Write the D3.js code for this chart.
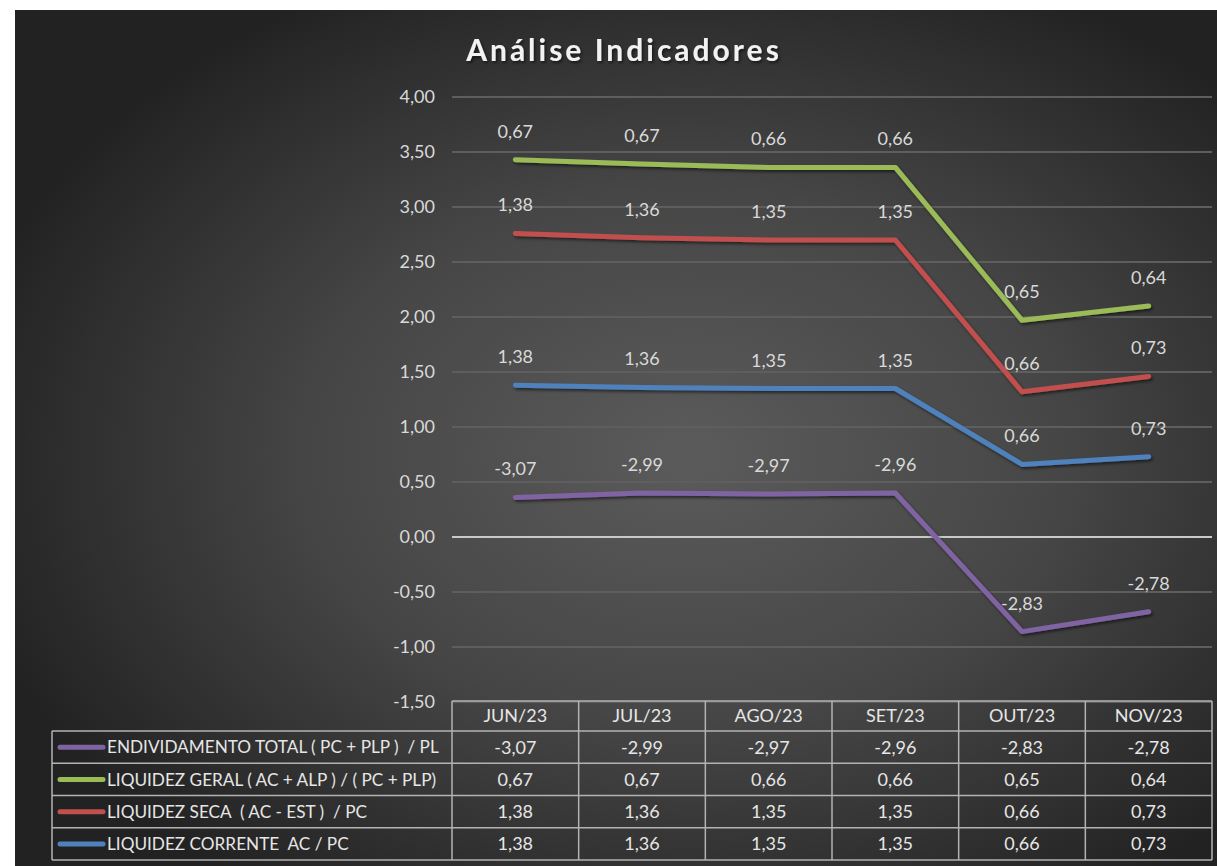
<!DOCTYPE html>
<html>
<head>
<meta charset="utf-8">
<script src="https://cdn.jsdelivr.net/npm/d3@7"></script>
<style>
  body { margin: 0; background: #fff; }
  text { font-family: Lato, "Open Sans", sans-serif; white-space: pre; }
</style>
</head>
<body>
<div class="chart"></div>
<script>
let w = 1217;
let h = 866;

// data
const months = ["JUN/23", "JUL/23", "AGO/23", "SET/23", "OUT/23", "NOV/23"];
const endividamento = [-3.07, -2.99, -2.97, -2.96, -2.83, -2.78];
const liquidezGeral = [0.67, 0.67, 0.66, 0.66, 0.65, 0.64];
const liquidezSeca = [1.38, 1.36, 1.35, 1.35, 0.66, 0.73];
const liquidezCorrente = [1.38, 1.36, 1.35, 1.35, 0.66, 0.73];
const seriesNames = [
  "ENDIVIDAMENTO TOTAL ( PC + PLP )  / PL",
  "LIQUIDEZ GERAL ( AC + ALP ) / ( PC + PLP)",
  "LIQUIDEZ SECA  ( AC - EST )  / PC",
  "LIQUIDEZ CORRENTE  AC / PC"
];
const seriesColors = ["#8064a2", "#9bbb59", "#c0504d", "#4f81bd"];
const yTicks = [-1.5, -1, -0.5, 0, 0.5, 1, 1.5, 2, 2.5, 3, 3.5, 4];
const title = "Análise Indicadores";

const seriesValues = [endividamento, liquidezGeral, liquidezSeca, liquidezCorrente];

// stacked line: corrente at bottom, then seca, geral, endividamento
const stackOrder = [3, 2, 1, 0];
const rows = months.map((m, i) => {
  let r = { month: m };
  seriesValues.forEach((s, k) => r["s" + k] = s[i]);
  return r;
});
const stacked = d3.stack().keys(stackOrder.map(k => "s" + k))(rows);

const ptBR = d3.formatLocale({ decimal: ",", thousands: ".", grouping: [3], currency: ["R$", ""], minus: "-" });
const fmt = ptBR.format(".2f");

const plotLeft = 452, plotRight = 1212, plotTop = 97, plotBottom = 702;
const fs = 18;

const xScale = d3.scaleBand().domain(months).range([plotLeft, plotRight]);
const yScale = d3.scaleLinear().domain([-1.5, 4]).range([plotBottom, plotTop]);
const bw = xScale.bandwidth();
const cx = m => xScale(m) + bw / 2;

const svg = d3.select(".chart").append("svg").attr("width", w).attr("height", h);
const defs = svg.append("defs");

const grad = defs.append("radialGradient").attr("id", "bg")
  .attr("cx", "56%").attr("cy", "52%").attr("r", "62%");
grad.append("stop").attr("offset", "0%").attr("stop-color", "#5b5b5b");
grad.append("stop").attr("offset", "50%").attr("stop-color", "#464646");
grad.append("stop").attr("offset", "100%").attr("stop-color", "#222222");

const shadow = defs.append("filter").attr("id", "shadow")
  .attr("x", "-10%").attr("y", "-10%").attr("width", "120%").attr("height", "130%");
shadow.append("feDropShadow").attr("dx", 1.5).attr("dy", 2).attr("stdDeviation", 1.5)
  .attr("flood-color", "#000").attr("flood-opacity", 0.55);

svg.append("rect").attr("x", 15).attr("y", 10).attr("width", w - 15).attr("height", h - 10)
  .attr("fill", "url(#bg)");

// title
svg.append("text")
  .attr("x", 624).attr("y", 61)
  .attr("text-anchor", "middle")
  .attr("fill", "#f2f2f2")
  .attr("font-size", 30).attr("font-weight", 700)
  .attr("letter-spacing", 3)
  .attr("filter", "url(#shadow)")
  .text(title);

// gridlines + y labels
svg.append("g").selectAll("line")
  .data(yTicks)
  .enter()
  .append("line")
  .attr("x1", plotLeft).attr("x2", plotRight)
  .attr("y1", d => yScale(d)).attr("y2", d => yScale(d))
  .attr("stroke", d => d === 0 ? "#c9c9c9" : "#5e5e5e")
  .attr("stroke-width", 2);

svg.append("g").selectAll("text")
  .data(yTicks)
  .enter()
  .append("text")
  .attr("x", 435).attr("y", d => yScale(d))
  .attr("dy", "0.35em")
  .attr("text-anchor", "end")
  .attr("fill", "#d9d9d9")
  .attr("font-size", fs)
  .text(d => fmt(d));

// lines
const line = d3.line()
  .x(d => cx(d.data.month))
  .y(d => yScale(d[1]));

const seriesG = svg.append("g").attr("filter", "url(#shadow)");
stacked.forEach((layer, j) => {
  const k = stackOrder[j];
  seriesG.append("path")
    .datum(layer)
    .attr("d", line)
    .attr("fill", "none")
    .attr("stroke", seriesColors[k])
    .attr("stroke-width", 5)
    .attr("stroke-linecap", "round")
    .attr("stroke-linejoin", "round");
});

// data labels
stacked.forEach((layer, j) => {
  const k = stackOrder[j];
  svg.append("g").selectAll("text")
    .data(layer)
    .enter()
    .append("text")
    .attr("x", d => cx(d.data.month))
    .attr("y", d => yScale(d[1]) - 22)
    .attr("text-anchor", "middle")
    .attr("fill", "#d9d9d9")
    .attr("font-size", fs)
    .text(d => fmt(d.data["s" + k]));
});

// data table
const tableTop = 701, headerBottom = 731, rowH = 32.25;
const legendLeft = 52;
const tableBottom = headerBottom + rowH * seriesNames.length;
const tbl = svg.append("g");
const gridStroke = "#b3b3b3";

tbl.append("line").attr("x1", plotLeft).attr("x2", plotRight).attr("y1", tableTop).attr("y2", tableTop)
  .attr("stroke", gridStroke).attr("stroke-width", 1.5);
tbl.selectAll(".hrow")
  .data(d3.range(seriesNames.length + 1))
  .enter()
  .append("line")
  .attr("x1", legendLeft).attr("x2", plotRight)
  .attr("y1", i => headerBottom + i * rowH).attr("y2", i => headerBottom + i * rowH)
  .attr("stroke", gridStroke).attr("stroke-width", 1.5);
tbl.selectAll(".vcol")
  .data(months.concat(["end"]))
  .enter()
  .append("line")
  .attr("x1", (d, i) => plotLeft + i * bw).attr("x2", (d, i) => plotLeft + i * bw)
  .attr("y1", tableTop).attr("y2", tableBottom)
  .attr("stroke", gridStroke).attr("stroke-width", 1.5);
tbl.append("line").attr("x1", legendLeft).attr("x2", legendLeft).attr("y1", headerBottom).attr("y2", tableBottom)
  .attr("stroke", gridStroke).attr("stroke-width", 1.5);

tbl.selectAll(".head")
  .data(months)
  .enter()
  .append("text")
  .attr("x", d => cx(d))
  .attr("y", (tableTop + headerBottom) / 2)
  .attr("dy", "0.36em")
  .attr("text-anchor", "middle")
  .attr("fill", "#e6e6e6")
  .attr("font-size", fs)
  .text(d => d);

seriesNames.forEach((name, k) => {
  const yMid = headerBottom + k * rowH + rowH / 2;
  tbl.append("line")
    .attr("x1", 60).attr("x2", 103)
    .attr("y1", yMid).attr("y2", yMid)
    .attr("stroke", seriesColors[k])
    .attr("stroke-width", 5)
    .attr("stroke-linecap", "round");
  tbl.append("text")
    .attr("x", 107).attr("y", yMid).attr("dy", "0.36em")
    .attr("fill", "#e6e6e6")
    .attr("font-size", 17.2)
    .text(name);
  tbl.selectAll(".cell" + k)
    .data(seriesValues[k])
    .enter()
    .append("text")
    .attr("x", (d, i) => cx(months[i]))
    .attr("y", yMid).attr("dy", "0.36em")
    .attr("text-anchor", "middle")
    .attr("fill", "#e6e6e6")
    .attr("font-size", fs)
    .text(d => fmt(d));
});
</script>
</body>
</html>
